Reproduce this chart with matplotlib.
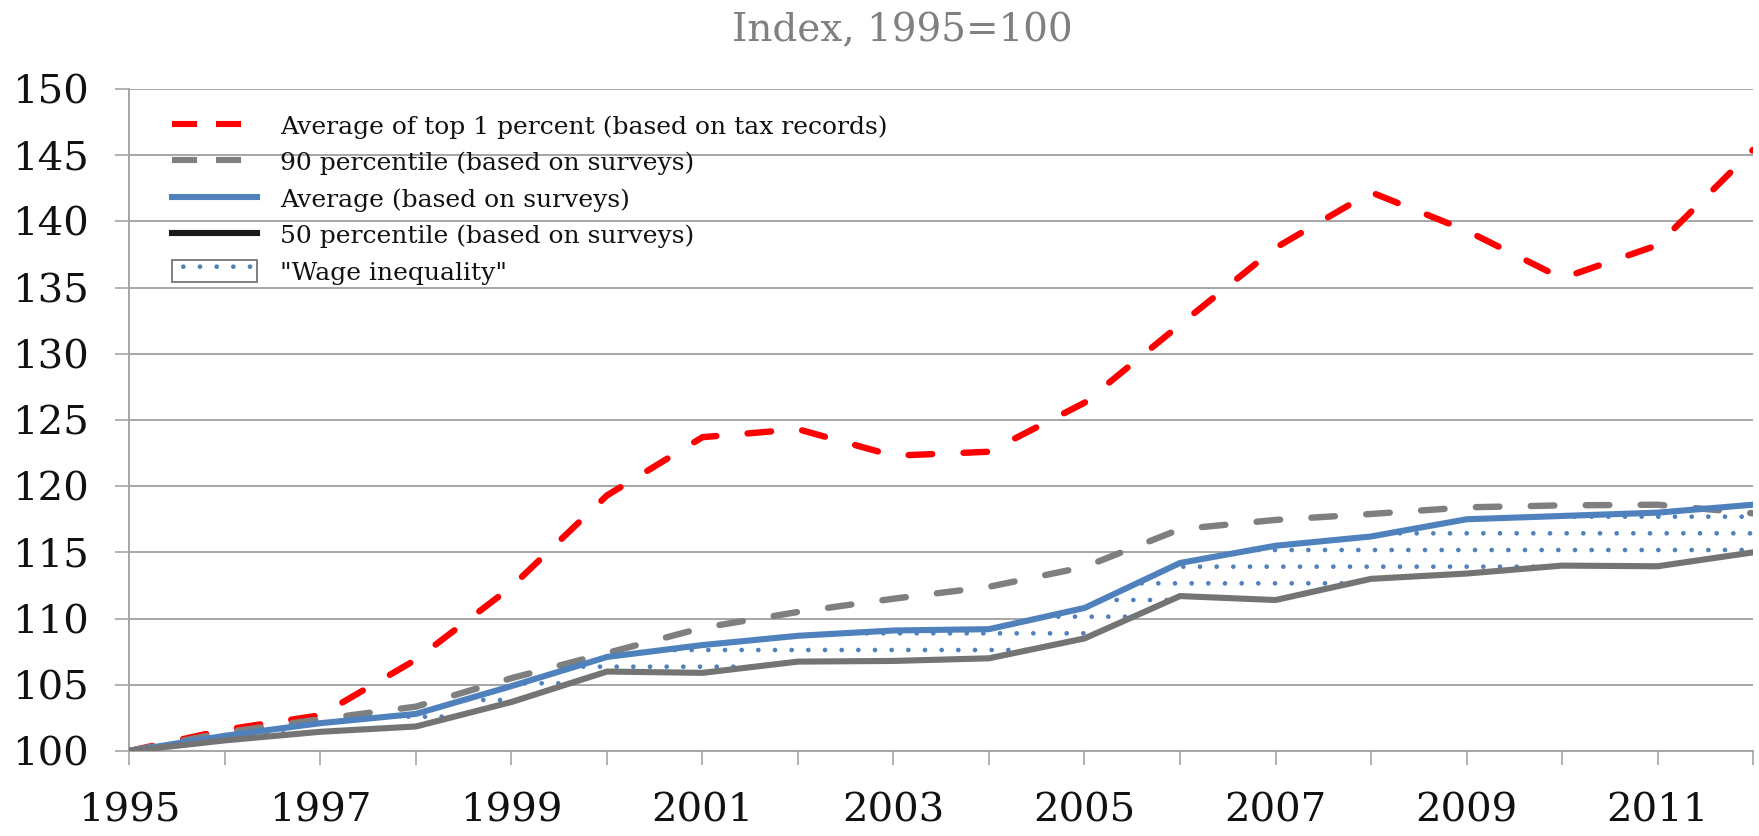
import matplotlib.pyplot as plt
from matplotlib.lines import Line2D
from matplotlib.patches import Patch

# index values, 1995 = 100
years = list(range(1995, 2013))
top1_tax = [100, 101.6, 102.7, 106.9, 112.4, 119.3, 123.7, 124.3, 122.3, 122.6,
            126.3, 132.2, 138.0, 142.2, 139.3, 135.7, 138.2, 145.4]
p90_surveys = [100, 101.4, 102.4, 103.35, 105.5, 107.4, 109.3, 110.5, 111.5, 112.4,
               113.9, 116.75, 117.45, 117.9, 118.4, 118.55, 118.6, 117.95]
avg_surveys = [100, 101.15, 102.1, 102.8, 104.9, 107.1, 108.0, 108.7, 109.1, 109.2,
               110.8, 114.2, 115.5, 116.2, 117.5, 117.75, 118.0, 118.6]
p50_surveys = [100, 100.8, 101.45, 101.85, 103.7, 106.0, 105.9, 106.75, 106.8, 107.0,
               108.5, 111.7, 111.4, 113.0, 113.4, 114.0, 113.95, 115.0]

series_labels = ['Average of top 1 percent (based on tax records)',
                 '90 percentile (based on surveys)',
                 'Average (based on surveys)',
                 '50 percentile (based on surveys)',
                 '"Wage inequality"']
y_ticks = list(range(100, 151, 5))

RED = '#FF0000'
GREY = '#7F7F7F'
BLUE = '#4F81BD'
DARK = '#747474'
GRID = '#A6A6A6'

plt.rcParams['font.family'] = ['DejaVu Serif']
plt.rcParams['hatch.linewidth'] = 0.9

fig = plt.figure(figsize=(17.59, 8.36), dpi=100)
ax = fig.add_axes([0.0736, 0.1017, 0.9230, 0.7919])

# shaded gap between the average and the median
ax.fill_between(years, p50_surveys, avg_surveys, facecolor='white',
                edgecolor=BLUE, hatch='.', linewidth=0, zorder=1)

ax.plot(years, top1_tax, color=RED, lw=4.6, dashes=(3.7, 4.9),
        dash_capstyle='round', dash_joinstyle='round', zorder=3)
ax.plot(years, p90_surveys, color=GREY, lw=4.6, dashes=(3.7, 4.9),
        dash_capstyle='round', dash_joinstyle='round', zorder=4)
ax.plot(years, avg_surveys, color=BLUE, lw=4.4, zorder=5)
ax.plot(years, p50_surveys, color=DARK, lw=4.4, zorder=6)

ax.set_xlim(1995, 2012)
ax.set_ylim(100, 150)
ax.set_yticks(y_ticks)
ax.set_xticks(years)
ax.set_xticklabels([str(y) if y % 2 == 1 else '' for y in years])

ax.grid(axis='y', color=GRID, lw=1.4, zorder=0)
ax.set_axisbelow(True)
for side in ['top', 'right']:
    ax.spines[side].set_visible(False)
for side in ['left', 'bottom']:
    ax.spines[side].set_color(GRID)
    ax.spines[side].set_linewidth(1.4)

ax.tick_params(axis='both', colors=GRID, length=10, width=1.2, labelcolor='#111111',
               labelsize=29)
ax.tick_params(axis='x', pad=20)
ax.tick_params(axis='y', pad=19)

wage_box = (Patch(facecolor='white', edgecolor=BLUE, hatch='.', lw=0),
            Patch(facecolor='none', edgecolor=GREY, lw=1.4))
handles = [
    Line2D([], [], color=RED, lw=4.4, dashes=(4.1, 3.1), dash_capstyle='butt'),
    Line2D([], [], color=GREY, lw=4.4, dashes=(4.1, 3.1), dash_capstyle='butt'),
    Line2D([], [], color=BLUE, lw=4.4),
    Line2D([], [], color='#1A1A1A', lw=4.4),
    wage_box,
]
leg = ax.legend(handles, series_labels, loc='upper left', bbox_to_anchor=(0.026, 0.962),
                frameon=False, fontsize=18, handlelength=3.4, handleheight=1.0,
                handletextpad=0.95, labelspacing=0.47, borderpad=0, borderaxespad=0)
for t in leg.get_texts():
    t.set_color('#111111')

fig.text(0.513, 0.963, 'Index, 1995=100', ha='center', va='center',
         fontsize=28, color='#808080')

fig.savefig('out.png', dpi=100)
